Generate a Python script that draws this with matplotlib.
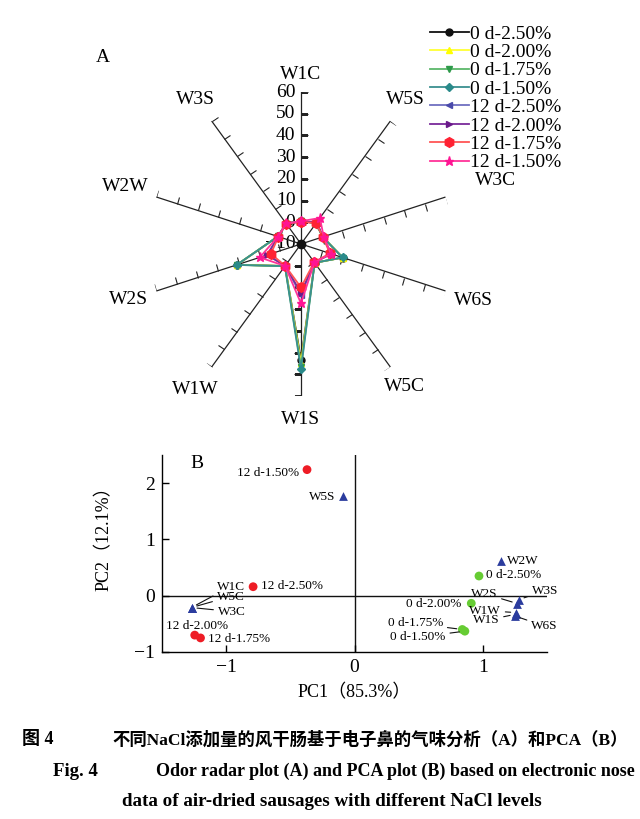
import numpy as np
import matplotlib
matplotlib.use('Agg')
import matplotlib.pyplot as plt
from matplotlib.markers import MarkerStyle
from matplotlib.transforms import Affine2D, offset_copy

plt.rcParams['font.family'] = ['Liberation Serif', 'Noto Sans CJK SC', 'DejaVu Sans']
plt.rcParams['axes.unicode_minus'] = True

# ---------------- data: radar (A) ----------------
sensors = ['W1C', 'W5S', 'W3C', 'W6S', 'W5C', 'W1S', 'W1W', 'W2S', 'W2W', 'W3S']
series_labels = ['0 d-2.50%', '0 d-2.00%', '0 d-1.75%', '0 d-1.50%',
                 '12 d-2.50%', '12 d-2.00%', '12 d-1.75%', '12 d-1.50%']
d0_250 = [0.6, 1.8, 0.5, 10.2, 0.7, 43.4, 2.5, 21.0, 1.2, 1.6]
d0_200 = [0.6, 1.8, 0.5, 10.3, 0.7, 44.7, 2.5, 21.0, 1.2, 1.6]
d0_175 = [0.6, 1.9, 0.5, 10.2, 0.7, 46.5, 2.6, 21.2, 1.2, 1.6]
d0_150 = [0.6, 1.9, 0.5, 10.1, 0.7, 47.7, 2.6, 21.1, 1.2, 1.6]
d12_250 = [0.3, 2.2, 0.6, 4.6, 0.4, 13.5, 2.4, 6.0, 1.0, 1.6]
d12_200 = [0.3, 2.4, 0.6, 4.8, 0.4, 12.5, 2.4, 6.5, 1.0, 1.6]
d12_175 = [0.2, 1.9, 0.6, 4.0, 0.3, 10.0, 2.4, 4.6, 0.9, 1.6]
d12_150 = [0.5, 4.8, 1.0, 4.5, 0.5, 17.4, 2.5, 10.0, 1.1, 1.7]
radar_series = [d0_250, d0_200, d0_175, d0_150, d12_250, d12_200, d12_175, d12_150]
radial_ticks = [60, 50, 40, 30, 20, 10, 0, -10]

# ---------------- data: PCA (B) ----------------
pca_samples = ['0 d-2.50%', '0 d-2.00%', '0 d-1.75%', '0 d-1.50%',
               '12 d-2.50%', '12 d-2.00%', '12 d-1.75%', '12 d-1.50%']
pc1_samples = [0.97, 0.91, 0.84, 0.86, -0.79, -1.245, -1.20, -0.37]
pc2_samples = [0.35, -0.135, -0.60, -0.63, 0.16, -0.70, -0.75, 2.24]
pca_sensors = ['W1C', 'W5S', 'W3C', 'W6S', 'W5C', 'W1S', 'W1W', 'W2S', 'W2W', 'W3S']
pc1_sensors = [-1.27, -0.086, -1.27, 1.25, -1.27, 1.255, 1.26, 1.27, 1.14, 1.28]
pc2_sensors = [-0.21, 1.77, -0.21, -0.36, -0.21, -0.33, -0.30, -0.14, 0.62, -0.07]
pc1_ticks = [-1, 0, 1]
pc2_ticks = [-1, 0, 1, 2]

# ---------------- styles ----------------
colors = ['#111111', '#ffff00', '#2e9a4a', '#2a8a8a', '#4a4aaa', '#6a1a8a', '#ff2233', '#ff1493']
line_colors = ['#111111', '#ffff33', '#5cb86a', '#3a9090', '#7070c0', '#7a2a9a', '#ff5555', '#ff3399']
markers = ['o', '^', 'v', 'D', '<', '>', 'h', '*']
msizes = [5, 5, 5, 4.5, 5, 5, 7, 6.5]

W, H = 640, 819
fig = plt.figure(figsize=(W / 100, H / 100), dpi=100)

# ---------------- radar ----------------
cx, cy, R = 301, 244, 152
axr = fig.add_axes([(cx - R) / W, (H - cy - R) / H, 2 * R / W, 2 * R / H], projection='polar')
axr.set_theta_zero_location('N')
axr.set_theta_direction(-1)
axr.set_ylim(-10, 60)
axr.grid(False)
axr.set_xticks([])
axr.set_yticks([])
axr.spines['polar'].set_visible(False)
axr.patch.set_alpha(0)

n = len(sensors)
theta = np.deg2rad(np.arange(n) * 360.0 / n)

for i, t in enumerate(theta):
    axr.plot([t, t], [-10, 60], color='#222222', lw=0.9, zorder=1)
    phi = -90 - np.rad2deg(t)
    ms = MarkerStyle(2, transform=Affine2D().rotate_deg(phi))
    rt = [r for r in radial_ticks if r > -10]
    axr.plot([t] * len(rt), rt, linestyle='none', marker=ms, markersize=5,
             markeredgewidth=0.8, color='#222222', zorder=1)

label_r = [68, 72, 84, 73.5, 71, 70.6, 73, 73.4, 75, 72.4]
for t, s, lr in zip(theta, sensors, label_r):
    axr.text(t, lr, s, ha='center', va='center', fontsize=14, clip_on=False)

tr = offset_copy(axr.transData, fig=fig, x=-4, y=0, units='points')
for r in radial_ticks:
    axr.text(0, r, f'{r}'.replace('-', '\u2212'), transform=tr, ha='right', va='center',
             fontsize=14, clip_on=False, zorder=0)

tc = np.concatenate([theta, theta[:1]])
handles = []
for vals, lab, c, lc, m, s in zip(radar_series, series_labels, colors, line_colors, markers, msizes):
    v = np.array(vals + vals[:1])
    ln, = axr.plot(tc, v, color=lc, lw=1.3, marker=m, markersize=s,
                   markerfacecolor=c, markeredgecolor=c, label=lab, zorder=3, clip_on=False)
    handles.append(ln)
axr.plot([0], [-10], marker='o', color='#111111', markersize=6, zorder=4)

fig.legend(handles=handles, labels=series_labels, loc='upper left',
           bbox_to_anchor=(430 / W, 1 - 25 / H), frameon=False, fontsize=14,
           handlelength=2.0, handletextpad=0.05, labelspacing=0.04,
           borderpad=0, borderaxespad=0)

fig.text(103 / W, 1 - 58 / H, 'A', fontsize=14, ha='center', va='center')

# ---------------- PCA ----------------
axb = fig.add_axes([162 / W, (H - 652) / H, 385 / W, 197 / H])
axb.set_xlim(-1.5, 1.5)
axb.set_ylim(-1, 2.5)
for sp in ['top', 'right']:
    axb.spines[sp].set_visible(False)
for sp in ['left', 'bottom']:
    axb.spines[sp].set_linewidth(1.0)
axb.axhline(0, color='#111111', lw=1.0, zorder=1)
axb.axvline(0, color='#111111', lw=1.0, zorder=1)
axb.set_xticks(pc1_ticks)
axb.set_yticks(pc2_ticks)
axb.tick_params(direction='in', length=5, width=1.0, labelsize=14, pad=5)
axb.set_xlabel('PC1（85.3%）', fontsize=13, labelpad=6)
axb.set_ylabel('PC2（12.1%）', fontsize=13)
axb.yaxis.set_label_coords(-0.127, 0.60)

red = '#ee1c25'
green = '#66cc33'
blue = '#2b3c9e'
samp_colors = [green if s.startswith('0 ') else red for s in pca_samples]
axb.scatter(pc1_samples, pc2_samples, s=40, c=samp_colors, zorder=3, linewidths=0)
axb.scatter(pc1_sensors, pc2_sensors, s=40, c=blue, marker='^', zorder=3, linewidths=0)

# label placements (offsets in pixels, ha, leader line)
samp_lab = {
    '0 d-2.50%': (7, 1, 'left', False),
    '0 d-2.00%': (-10, -1, 'right', False),
    '0 d-1.75%': (-19, 6, 'right', True),
    '0 d-1.50%': (-19, -6, 'right', True),
    '12 d-2.50%': (8, 1, 'left', False),
    '12 d-2.00%': (2, 9, 'center', False),
    '12 d-1.75%': (7, -1, 'left', False),
    '12 d-1.50%': (-8, -3, 'right', False),
}
sens_lab = {
    'W1C': (25, 21, 'left', True),
    'W5C': (25, 11, 'left', True),
    'W3C': (26, -4, 'left', True),
    'W5S': (-8, -1, 'right', False),
    'W2W': (6, 0, 'left', False),
    'W3S': (13, 9, 'left', True),
    'W2S': (-20, 10, 'right', True),
    'W1W': (-15, 2, 'right', True),
    'W1S': (-16, -6, 'right', True),
    'W6S': (16, -10, 'left', True),
}

def place(names, xs, ys, table):
    for nm, x, y in zip(names, xs, ys):
        dx, dy, ha, lead = table[nm]
        kw = {}
        if lead:
            kw['arrowprops'] = dict(arrowstyle='-', color='#111111', lw=0.8,
                                    shrinkA=1, shrinkB=4)
        axb.annotate(nm, xy=(x, y), xytext=(dx, dy), textcoords='offset pixels',
                     ha=ha, va='center', fontsize=9.5, zorder=4, **kw)

place(pca_samples, pc1_samples, pc2_samples, samp_lab)
place(pca_sensors, pc1_sensors, pc2_sensors, sens_lab)

fig.text(197 / W, 1 - 463 / H, 'B', fontsize=14, ha='center', va='center')

# ---------------- caption ----------------
fig.text(22 / W, 1 - 740 / H, '图 4', fontsize=13, fontweight='bold', ha='left', va='center')
fig.text(628 / W, 1 - 740 / H, '不同NaCl添加量的风干肠基于电子鼻的气味分析（A）和PCA（B）',
         fontsize=12.5, fontweight='bold', ha='right', va='center')
fig.text(53 / W, 1 - 771 / H, 'Fig. 4', fontsize=13.5, fontweight='bold', ha='left', va='center')
fig.text(635 / W, 1 - 771 / H, 'Odor radar plot (A) and PCA plot (B) based on electronic nose',
         fontsize=13, fontweight='bold', ha='right', va='center')
fig.text(122 / W, 1 - 802 / H, 'data of air-dried sausages with different NaCl levels',
         fontsize=13.7, fontweight='bold', ha='left', va='center')

fig.savefig('out.png', dpi=100)
